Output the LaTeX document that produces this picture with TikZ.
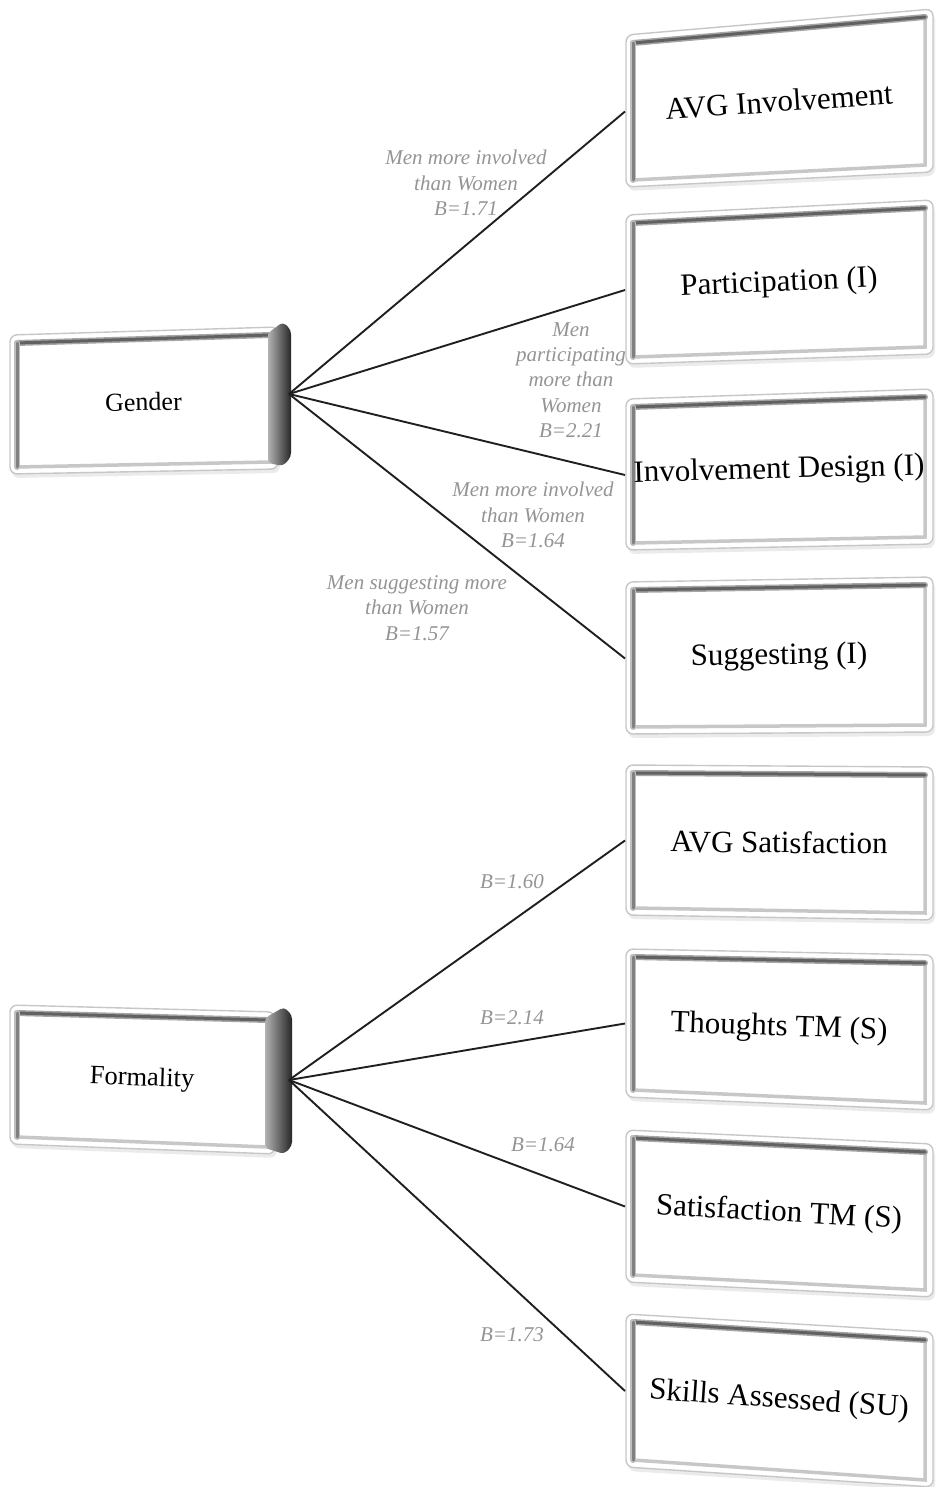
\documentclass[tikz,border=0pt]{standalone}
\usepackage{fontspec}
\setmainfont{Liberation Serif}
\usetikzlibrary{calc}

\tikzset{
  boxtext/.style={inner sep=0pt, text=black, font=\fontsize{31}{34}\selectfont},
  effect/.style={text=black!42, font=\itshape\fontsize{21}{25.3}\selectfont, align=center, inner sep=0pt},
  conn/.style={draw=black!88, line width=1.9},
}

% bevelled box: name, left x, right x, top-left y, top-right y, bottom-right y, bottom-left y, text angle, text
\newcommand{\bevelbox}[9]{%
  \fill[black!8, rounded corners=7] ({#2-5},{#4-4}) -- ({#3+10},{#5-4}) -- ({#3+10},{#6+11}) -- ({#2-5},{#7+11}) -- cycle;
  \filldraw[fill=white, draw=black!22, line width=1.4, rounded corners=7]
    ({#2-7},{#4-8}) -- ({#3+8},{#5-8}) -- ({#3+8},{#6+7}) -- ({#2-7},{#7+7}) -- cycle;
  \fill[white] (#2,#4) -- (#3,#5) -- (#3,#6) -- (#2,#7) -- cycle;
  \draw[black!22, line width=3.5, line cap=round] (#2,#7) -- (#3,#6) -- (#3,#5);
  \draw[black!35, line width=6, line cap=round] (#3,#5) -- (#2,#4);
  \draw[black!62, line width=3, line cap=round] (#3,#5) -- (#2,#4);
  \draw[black!25, line width=6, line cap=round] (#2,#4) -- (#2,#7);
  \draw[black!50, line width=3, line cap=round] (#2,#4) -- (#2,#7);
  \node[boxtext, rotate=#8] (#1) at ({(#2+#3)/2},{(#4+#5+#6+#7)/4}) {#9};
  \coordinate (#1-w) at ({#2-8},{(#4+#7)/2});
}

\begin{document}
\begin{tikzpicture}[x=1pt, y=-1pt]
\useasboundingbox (0,0) rectangle (935,1487);

% left-hand boxes with their dark right side
\bevelbox{gender}{17}{270}{343}{335}{462}{467}{1.2}{\fontsize{26}{30}\selectfont Gender}
\shade[left color=black!30, right color=black!85, rounded corners=4]
  (268,333) -- (283,322) -- (291,330) -- (291,457) -- (283,466) -- (268,463) -- cycle;
\coordinate (gender-e) at (289,394);

\bevelbox{formality}{17}{267}{1013}{1020}{1147}{1137}{-2}{\fontsize{26.5}{30}\selectfont Formality}
\shade[left color=black!30, right color=black!85, rounded corners=4]
  (265,1018) -- (284,1007) -- (292,1015) -- (292,1146) -- (284,1154) -- (265,1148) -- cycle;
\coordinate (formality-e) at (289,1080);

% right-hand boxes
\bevelbox{avginv}{633}{925}{43}{17}{165}{180}{4}{AVG Involvement}
\bevelbox{partic}{633}{925}{223}{208}{347}{357}{2.5}{Participation (I)}
\bevelbox{invdes}{633}{925}{407}{397}{537}{543}{1.5}{Involvement Design (I)}
\bevelbox{sugg}{633}{925}{590}{585}{725}{727}{0.8}{Suggesting (I)}
\bevelbox{avgsat}{633}{925}{773}{775}{913}{908}{-0.5}{AVG Satisfaction}
\bevelbox{thought}{633}{925}{957}{963}{1103}{1090}{-2}{Thoughts TM (S)}
\bevelbox{sattm}{633}{925}{1138}{1152}{1290}{1275}{-3.2}{Satisfaction TM (S)}
\bevelbox{skills}{633}{925}{1322}{1340}{1480}{1460}{-4}{Skills Assessed (SU)}

% connectors
\draw[conn] (gender-e) -- (avginv-w);
\draw[conn] (gender-e) -- (partic-w);
\draw[conn] (gender-e) -- (invdes-w);
\draw[conn] (gender-e) -- (sugg-w);
\draw[conn] (formality-e) -- (avgsat-w);
\draw[conn] (formality-e) -- (thought-w);
\draw[conn] (formality-e) -- (sattm-w);
\draw[conn] (formality-e) -- (skills-w);

% effect labels
\node[effect] (l1) at (466,183) {Men more involved\\than Women\\B=1.71};
\node[effect] (l2) at (571,380) {Men\\participating\\more than\\Women\\B=2.21};
\node[effect] (l3) at (533,515) {Men more involved\\than Women\\B=1.64};
\node[effect] (l4) at (417,608) {Men suggesting more\\than Women\\B=1.57};
\node[effect] (l5) at (512,882) {B=1.60};
\node[effect] (l6) at (512,1018) {B=2.14};
\node[effect] (l7) at (543,1145) {B=1.64};
\node[effect] (l8) at (512,1335) {B=1.73};
\end{tikzpicture}
\end{document}
